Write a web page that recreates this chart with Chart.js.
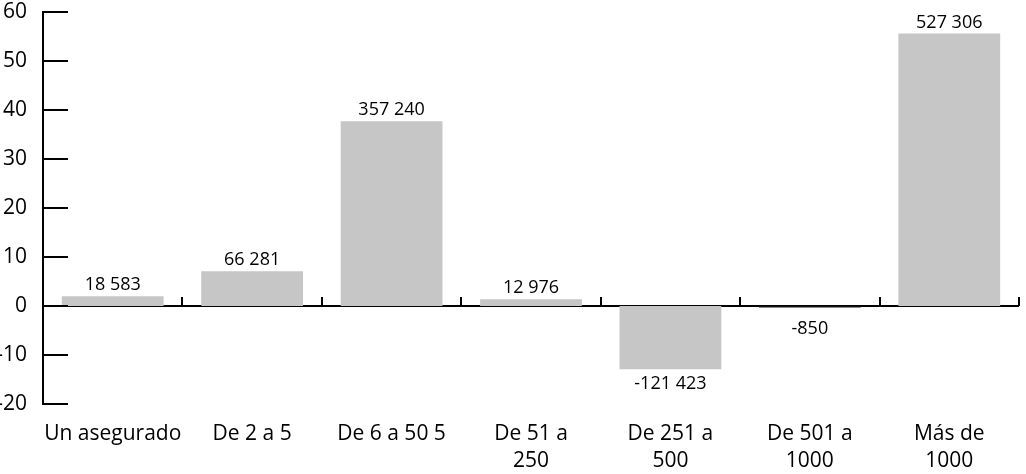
<!DOCTYPE html>
<html lang="es">
<head>
  <meta charset="UTF-8" />
  <title>Asegurados por tamaño</title>
  <script src="https://cdn.jsdelivr.net/npm/chart.js"></script>
  <style>
    html, body {
      margin: 0;
      padding: 0;
      background: #fff;
    }
    #wrap {
      width: 1026px;
      height: 474px;
    }
  </style>
</head>
<body>
  <div id="wrap"><canvas id="barChart"></canvas></div>

  <script>
    const categories = [
      'Un asegurado',
      'De 2 a 5',
      'De 6 a 50 5',
      ['De 51 a', '250'],
      ['De 251 a', '500'],
      ['De 501 a', '1000'],
      ['Más de', '1000']
    ];
    const values = [2.0, 7.1, 37.7, 1.4, -12.9, -0.3, 55.6];
    const valueLabels = ['18 583', '66 281', '357 240', '12 976', '-121 423', '-850', '527 306'];
    const yTicks = [-20, -10, 0, 10, 20, 30, 40, 50, 60];

    const FONT = '"Open Sans", "Noto Sans", sans-serif';

    // zero line + upward ticks between categories, drawn under the bars
    const zeroAxis = {
      id: 'zeroAxis',
      beforeDatasetsDraw(chart) {
        const { ctx, chartArea, scales } = chart;
        const y0 = scales.y.getPixelForValue(0);
        const step = scales.x.getPixelForValue(1) - scales.x.getPixelForValue(0);
        ctx.save();
        ctx.strokeStyle = '#000';
        ctx.lineWidth = 2;
        ctx.beginPath();
        ctx.moveTo(chartArea.left, y0);
        ctx.lineTo(chartArea.right, y0);
        ctx.stroke();
        for (let i = 0; i < categories.length; i++) {
          const x = Math.round(scales.x.getPixelForValue(i) + step / 2);
          ctx.beginPath();
          ctx.moveTo(x, y0);
          ctx.lineTo(x, y0 - 9);
          ctx.stroke();
        }
        ctx.restore();
      },
      afterDatasetsDraw(chart) {
        const { ctx, chartArea, scales } = chart;
        ctx.save();
        // inward y ticks
        ctx.strokeStyle = '#000';
        ctx.lineWidth = 2;
        yTicks.forEach(v => {
          const y = Math.round(scales.y.getPixelForValue(v));
          ctx.beginPath();
          ctx.moveTo(chartArea.left, y);
          ctx.lineTo(chartArea.left + 25, y);
          ctx.stroke();
        });
        // value labels
        ctx.fillStyle = '#000';
        ctx.font = '18px ' + FONT;
        ctx.textAlign = 'center';
        const meta = chart.getDatasetMeta(0);
        meta.data.forEach((bar, i) => {
          if (values[i] >= 0) {
            ctx.textBaseline = 'bottom';
            ctx.fillText(valueLabels[i], bar.x, bar.y - 2);
          } else {
            ctx.textBaseline = 'top';
            const bottom = Math.max(bar.y, bar.base);
            ctx.fillText(valueLabels[i], bar.x, bottom + (values[i] > -1 ? 12 : 6));
          }
        });
        ctx.restore();
      }
    };

    new Chart(document.getElementById('barChart'), {
      type: 'bar',
      data: {
        labels: categories,
        datasets: [{
          data: values,
          backgroundColor: values.map(v => v < 0 && v > -1 ? '#111' : '#c6c6c6'),
          borderWidth: 0,
          barPercentage: 0.73,
          categoryPercentage: 1
        }]
      },
      options: {
        responsive: true,
        maintainAspectRatio: false,
        animation: false,
        layout: {
          padding: { top: 12, right: 7, left: 0, bottom: 0 }
        },
        plugins: {
          legend: { display: false },
          tooltip: { enabled: false }
        },
        scales: {
          x: {
            grid: { display: false, drawTicks: false },
            border: { display: false },
            ticks: {
              color: '#000',
              font: { family: FONT, size: 21, lineHeight: 1.3 },
              padding: 16,
              maxRotation: 0,
              autoSkip: false
            },
            afterFit(scale) {
              scale.height = 70;
              scale.paddingLeft = 0;
              scale.paddingRight = 0;
            }
          },
          y: {
            min: -20,
            max: 60,
            grid: { display: false, drawTicks: false },
            border: { display: true, color: '#000', width: 2 },
            ticks: {
              stepSize: 10,
              color: '#000',
              font: { family: FONT, size: 21 },
              padding: 16
            },
            afterFit(scale) {
              scale.width = 43;
              scale.paddingTop = 0;
              scale.paddingBottom = 0;
            }
          }
        }
      },
      plugins: [zeroAxis]
    });
  </script>
</body>
</html>
